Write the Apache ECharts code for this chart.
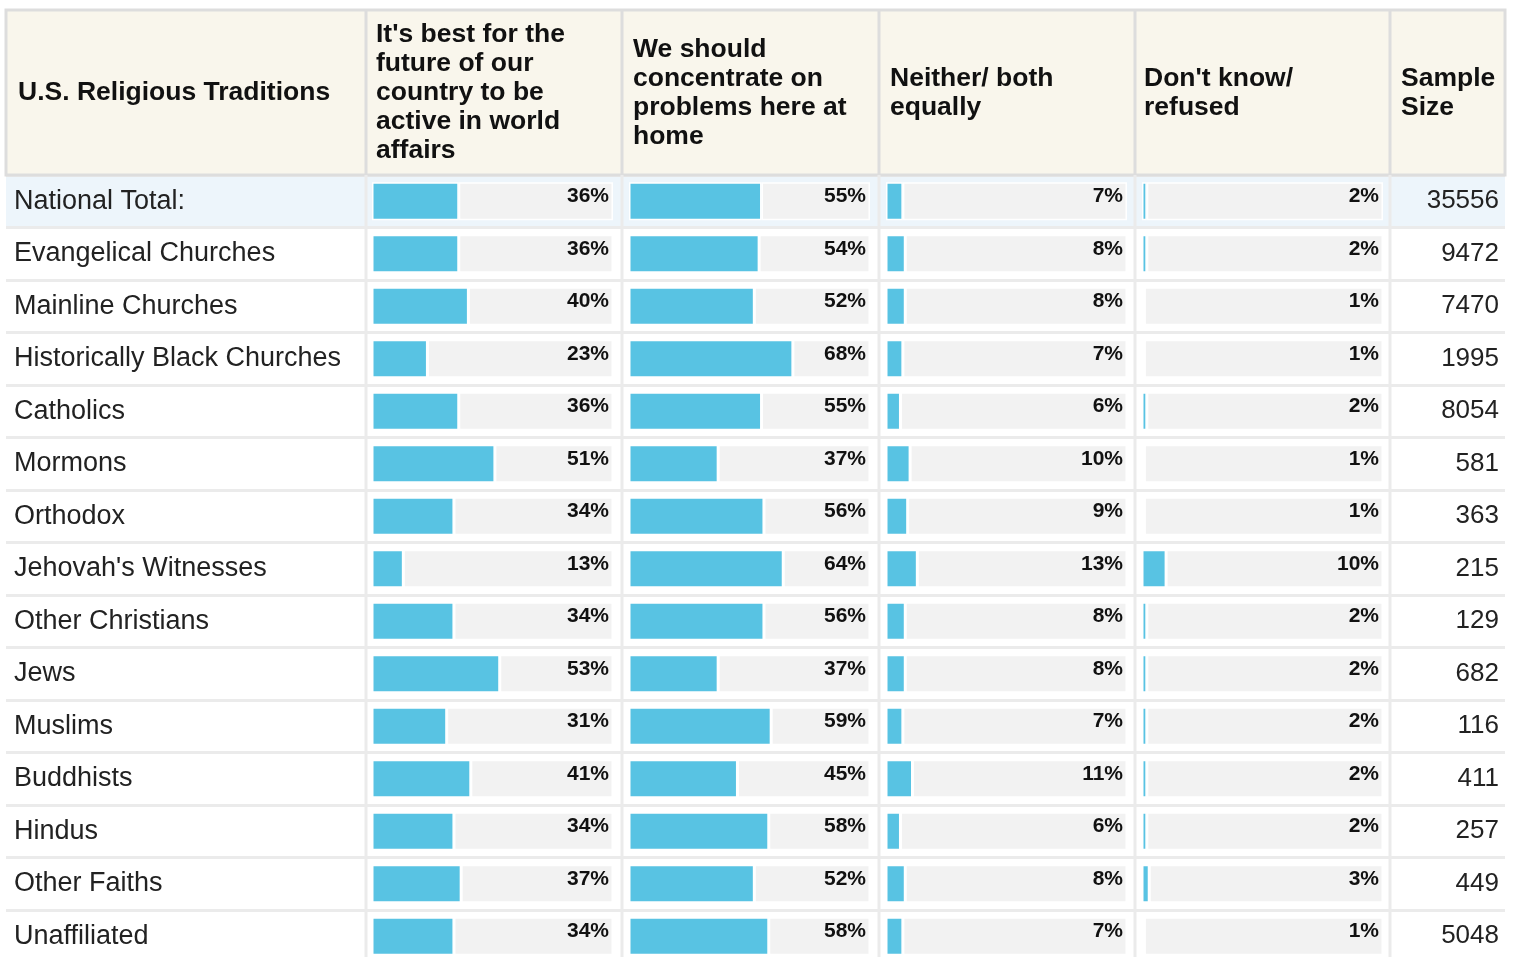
<!DOCTYPE html>
<html>
<head>
<meta charset="utf-8">
<script src="https://cdn.jsdelivr.net/npm/echarts@6/dist/echarts.min.js"></script>
<style>html,body{margin:0;padding:0;background:#fff;overflow:hidden}#c{width:1515px;height:975px}</style>
</head>
<body>
<div id="c"></div>
<script>
const categories = ['National Total:', 'Evangelical Churches', 'Mainline Churches', 'Historically Black Churches', 'Catholics', 'Mormons', 'Orthodox', "Jehovah's Witnesses", 'Other Christians', 'Jews', 'Muslims', 'Buddhists', 'Hindus', 'Other Faiths', 'Unaffiliated'];
const activeAbroad = [36, 36, 40, 23, 36, 51, 34, 13, 34, 53, 31, 41, 34, 37, 34];
const focusHome = [55, 54, 52, 68, 55, 37, 56, 64, 56, 37, 59, 45, 58, 52, 58];
const neitherBoth = [7, 8, 8, 7, 6, 10, 9, 13, 8, 8, 7, 11, 6, 8, 7];
const dontKnow = [2, 2, 1, 1, 2, 1, 1, 10, 2, 2, 2, 2, 2, 3, 1];
const sampleSize = [35556, 9472, 7470, 1995, 8054, 581, 363, 215, 129, 682, 116, 411, 257, 449, 5048];
const headers = [
  'U.S. Religious Traditions',
  "It's best for the\nfuture of our\ncountry to be\nactive in world\naffairs",
  'We should\nconcentrate on\nproblems here at\nhome',
  'Neither/ both\nequally',
  "Don't know/\nrefused",
  'Sample\nSize'
];

const FONT = '"Liberation Sans", Arial, Helvetica, sans-serif';
const BLUE = '#58c3e3';
const TRACK = '#f2f2f2';
const LINE = '#ebebeb';
const TOP = 175, ROWH = 52.5, H = ROWH * categories.length;
const colLeft = [372, 629, 886, 1142];
const BARW = 241;
const colBounds = [6, 366, 622, 879, 1135, 1390, 1505];
const headerX = [18, 376, 633, 890, 1144, 1401];
const colData = [activeAbroad, focusHome, neitherBoth, dontKnow];

const grids = [{ left: 6, top: TOP, width: 1499, height: H }];
const xAxes = [{ gridIndex: 0, type: 'value', show: false, min: 0, max: 1 }];
const yAxes = [{
  gridIndex: 0, type: 'category', data: categories, inverse: true,
  axisLine: { show: false }, axisTick: { show: false }, axisLabel: { show: false },
  splitLine: { show: true, interval: 0, lineStyle: { color: LINE, width: 3 } },
  splitArea: { show: true, interval: 0, areaStyle: { color: categories.map((c, i) => i === 0 ? '#edf5fb' : '#ffffff') } }
}];
const series = [];

colData.forEach((vals, k) => {
  const g = k + 1;
  grids.push({ left: colLeft[k], top: TOP, width: BARW, height: H });
  xAxes.push({ gridIndex: g, type: 'value', min: 0, max: 100, show: false });
  const ya = {
    gridIndex: g, type: 'category', data: categories, inverse: true,
    axisLine: { show: false }, axisTick: { show: false },
    axisLabel: { show: false }, splitLine: { show: false }
  };
  if (k === 0) {
    ya.axisLabel = { show: true, interval: 0, align: 'left', margin: colLeft[0] - 14, color: '#222', fontSize: 27, fontFamily: FONT };
  }
  yAxes.push(ya);
  const yIdx = yAxes.length - 1;
  series.push({
    type: 'bar', xAxisIndex: g, yAxisIndex: yIdx, stack: 'c' + k, barWidth: 38,
    data: vals, silent: true,
    itemStyle: { color: BLUE, borderColor: '#ffffff', borderWidth: 1.5 }
  });
  series.push({
    type: 'bar', xAxisIndex: g, yAxisIndex: yIdx, stack: 'c' + k, barWidth: 38,
    data: vals.map(v => 100 - v), silent: true,
    itemStyle: { color: TRACK, borderColor: '#ffffff', borderWidth: 1.5 },
    label: {
      show: true, position: 'insideRight', distance: 4, offset: [0, -5],
      formatter: p => vals[p.dataIndex] + '%',
      color: '#111', fontSize: 21, fontWeight: 'bold', fontFamily: FONT
    }
  });
  if (k === 3) {
    yAxes.push({
      gridIndex: g, type: 'category', data: categories, inverse: true, position: 'right',
      axisLine: { show: false }, axisTick: { show: false }, splitLine: { show: false },
      axisLabel: { show: true, interval: 0, align: 'right', margin: 1499 - (colLeft[3] + BARW),
        formatter: (v, i) => String(sampleSize[i]), color: '#222', fontSize: 26, fontFamily: FONT }
    });
  }
});

const graphic = [];
graphic.push({ type: 'rect', z: 10, shape: { x: 6, y: 10, width: 1499, height: TOP - 10 },
  style: { fill: '#f9f6ec', stroke: '#dddddd', lineWidth: 3 } });
colBounds.slice(1, -1).forEach(x => {
  graphic.push({ type: 'line', z: 11, shape: { x1: x, y1: 10, x2: x, y2: TOP }, style: { stroke: '#dddddd', lineWidth: 3 } });
  graphic.push({ type: 'line', z: 11, shape: { x1: x, y1: TOP, x2: x, y2: TOP + H }, style: { stroke: LINE, lineWidth: 3 } });
});
headers.forEach((t, i) => {
  graphic.push({ type: 'text', z: 12, x: headerX[i], y: 93,
    style: { text: t, fill: '#111', fontSize: 26.5, fontWeight: 'bold', fontFamily: FONT, lineHeight: 29, align: 'left', verticalAlign: 'middle' } });
});

const chart = echarts.init(document.getElementById('c'));
chart.setOption({
  animation: false,
  grid: grids, xAxis: xAxes, yAxis: yAxes, series: series, graphic: graphic
});
</script>
</body>
</html>
